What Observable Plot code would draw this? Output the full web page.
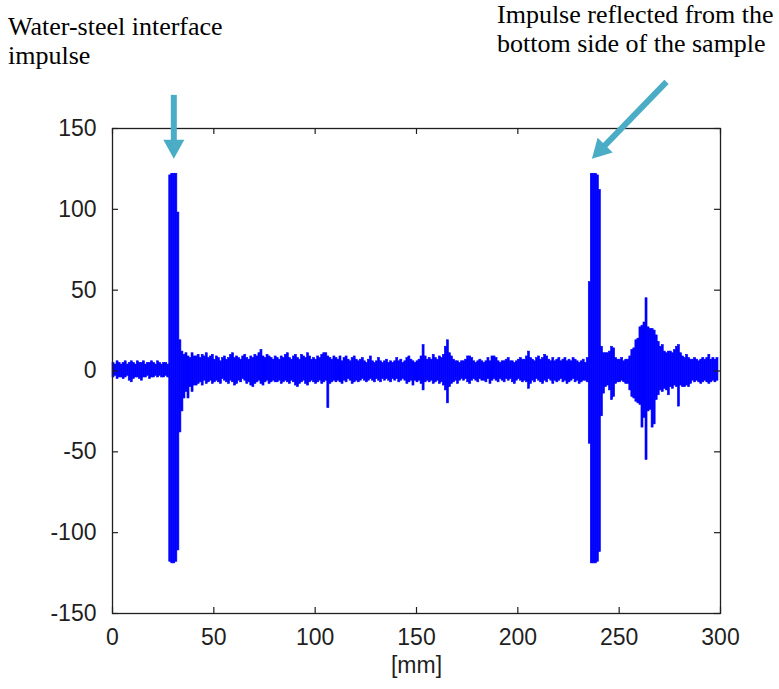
<!DOCTYPE html>
<html>
<head>
<meta charset="utf-8">
<script src="https://cdn.jsdelivr.net/npm/d3@7"></script>
<script src="https://cdn.jsdelivr.net/npm/@observablehq/plot@0.6"></script>
<style>
  html, body { margin: 0; padding: 0; background: #fff; }
  #chart { width: 779px; height: 689px; }
</style>
</head>
<body>
<div id="chart"></div>
<script>
// ---- Data ----
// Signal envelope per 1 mm bin (bin i covers i .. i+1 mm): upper and lower amplitude
const ampHigh = [
  5,4,6,5,4,5,6,4,5,6,5,4,6,5,5,6,4,5,5,6,5,4,6,5,4,5,5,4,
  121,122,122,122,98,19,12,10,11,9,8,11,9,
  9,10,8,10,9,11,8,9,10,7, 9,8,6,8,9,7,8,10,11,8, 9,8,7,9,10,8,7,9,8,10, 9,11,13,9,8,10,9,8,7,9,
  8,7,9,8,10,11,8,7,9,10, 8,7,10,9,8,11,9,7,8,7, 9,8,10,11,11,9,8,7,9,8, 7,9,6,8,9,7,6,8,9,7,
  6,7,8,6,5,7,9,6,5,6, 8,6,5,6,7,5,6,5,6,8, 6,7,5,6,8,9,7,6,5,6, 7,9,
  16,9,7,8,7,10,8,7,9,8, 10,15,19,11,9,7,6,6,5,6, 6,7,9,9,8,6,5,6,7,6, 5,6,8,6,9,9,8,6,5,6,
  6,7,8,6,6,5,6,7,8,7, 7,9,12,8,7,6,8,9,7,8, 10,9,7,6,8,6,7,8,6,7, 8,6,7,6,8,7,6,5,6,7,
  5,8,55,122,122,122,121,112,15,11,11,11,12,15,14,8,7,
  7,8,6,7,7,9,13,14,19,20, 27,28,30,45,27,26,26,25,22,18, 15,16,12,11,12,12,11,13,15,16,
  11,9,8,10,8,7,7,8,7,6, 7,8,7,8,10,7,8,7,8
];
const ampLow = [
  -4,-3,-5,-4,-4,-5,-4,-3,-6,-7,-5,-4,-4,-5,-6,-4,-4,-3,-5,-4,-4,-3,-4,-3,-4,-4,-3,-4,
  -118,-119,-119,-118,-111,-38,-25,-17,-13,-17,-10,-13,-9,
  -9,-8,-7,-9,-6,-8,-7,-6,-8,-7, -6,-7,-8,-5,-6,-7,-8,-6,-7,-9, -8,-6,-7,-5,-6,-8,-7,-9,-10,-8, -7,-6,-8,-9,-7,-6,-8,-7,-6,-7,
  -7,-6,-8,-7,-6,-7,-8,-6,-7,-9, -10,-8,-7,-6,-8,-9,-7,-6,-7,-8, -7,-6,-8,-7,-6,-23,-8,-7,-6,-7, -6,-7,-8,-6,-7,-5,-6,-8,-7,-6,
  -7,-6,-5,-6,-7,-6,-5,-6,-7,-5, -6,-7,-5,-6,-5,-6,-7,-5,-6,-5, -7,-6,-5,-6,-8,-7,-6,-9,-6,-7, -6,-8,
  -12,-7,-6,-7,-6,-8,-7,-6,-8,-7, -9,-12,-20,-10,-8,-7,-6,-8,-6,-5, -6,-5,-7,-8,-6,-5,-6,-7,-5,-6, -6,-7,-5,-8,-6,-5,-6,-7,-5,-6,
  -7,-5,-6,-5,-7,-8,-6,-5,-6,-7, -6,-7,-11,-8,-6,-7,-5,-6,-7,-8, -6,-7,-5,-6,-8,-6,-7,-6,-5,-7, -6,-8,-7,-6,-5,-7,-6,-8,-7,-6,
  -6,-7,-45,-119,-119,-119,-118,-112,-28,-14,-10,-9,-12,-18,-16,-8,-7,
  -7,-6,-7,-8,-8,-12,-16,-17,-19,-20, -21,-35,-29,-55,-25,-24,-35,-33,-18,-15, -12,-13,-11,-12,-15,-10,-11,-9,-10,-22,
  -9,-10,-10,-9,-10,-8,-6,-7,-6,-7, -8,-7,-6,-7,-8,-7,-6,-7,-6
];
const xTicks = [0, 50, 100, 150, 200, 250, 300];
const yTicks = [-150, -100, -50, 0, 50, 100, 150];
const xLabel = "[mm]";
const noteLeft = ["Water-steel interface", "impulse"];
const noteRight = ["Impulse reflected from the", "bottom side of the sample"];

const bins = ampHigh.map((hi, i) => ({ x1: i, x2: i + 1, hi, lo: ampLow[i] }));

// ---- Layout ----
const W = 779, H = 689;
const mL = 112, mR = 59, mT = 128, mB = 76;
const innerW = W - mL - mR, innerH = H - mT - mB;
const tickLen = 6;
const ink = "#1f1f1f";

const chart = Plot.plot({
  width: W, height: H,
  marginLeft: mL, marginRight: mR, marginTop: mT, marginBottom: mB,
  x: { domain: [0, 300] },
  y: { domain: [-150, 150] },
  style: { fontFamily: "'Liberation Sans', Arial, sans-serif", fontSize: "23px", color: ink, background: "#fff", overflow: "visible" },
  marks: [
    Plot.rect(bins, { x1: "x1", x2: "x2", y1: "lo", y2: "hi", fill: "#0000ff", stroke: "#0000ff", strokeWidth: 0.6 }),
    Plot.frame({ stroke: ink, strokeWidth: 1.3 }),
    // inward ticks on all four sides
    Plot.ruleX(xTicks, { x: d => d, insetTop: innerH - tickLen, stroke: ink, strokeWidth: 1.2 }),
    Plot.ruleX(xTicks, { x: d => d, insetBottom: innerH - tickLen, stroke: ink, strokeWidth: 1.2 }),
    Plot.ruleY(yTicks, { y: d => d, insetRight: innerW - tickLen, stroke: ink, strokeWidth: 1.2 }),
    Plot.ruleY(yTicks, { y: d => d, insetLeft: innerW - tickLen, stroke: ink, strokeWidth: 1.2 }),
    Plot.axisX(xTicks, { anchor: "bottom", tickSize: 0, tickPadding: 15, label: null, tickFormat: d => String(d) }),
    Plot.axisY(yTicks, { anchor: "left", tickSize: 0, tickPadding: 16, label: null, tickFormat: d => String(d) }),
    Plot.text([xLabel], { x: 150, frameAnchor: "bottom", dy: 52, text: d => d, lineAnchor: "middle", fill: ink })
  ]
});
document.getElementById("chart").appendChild(chart);

// ---- Annotations (text + arrows) ----
const sx = chart.scale("x"), sy = chart.scale("y");
const svg = d3.select(chart);
const g = svg.append("g")
  .style("font-family", "'Liberation Serif', 'Times New Roman', serif")
  .style("font-size", "26px")
  .style("text-anchor", "start")
  .style("fill", "#000");
noteLeft.forEach((t, i) => g.append("text").attr("x", 8).attr("y", 35 + i * 29).attr("text-anchor", "start").text(t));
noteRight.forEach((t, i) => g.append("text").attr("x", 497).attr("y", 23 + i * 29).attr("text-anchor", "start").text(t));

const arrowColor = "#4bacc6";
function arrow(tail, tip) {
  const T = [sx.apply(tip[0]), sy.apply(tip[1])];
  const S = [sx.apply(tail[0]), sy.apply(tail[1])];
  const dx = T[0] - S[0], dy = T[1] - S[1];
  const len = Math.hypot(dx, dy);
  const u = [dx / len, dy / len], n = [-u[1], u[0]];
  const L = 19, hw = 10.5;
  const B = [T[0] - u[0] * L, T[1] - u[1] * L];
  svg.append("line")
    .attr("x1", S[0]).attr("y1", S[1])
    .attr("x2", B[0] + u[0]).attr("y2", B[1] + u[1])
    .attr("stroke", arrowColor).attr("stroke-width", 6);
  svg.append("polygon")
    .attr("points", [T, [B[0] + n[0] * hw, B[1] + n[1] * hw], [B[0] - n[0] * hw, B[1] - n[1] * hw]].map(p => p.join(",")).join(" "))
    .attr("fill", arrowColor);
}
// arrow anchors in data units (pointing at the two impulse peaks)
arrow([30.5, 170.5], [30.5, 131]);
arrow([273.6, 178.5], [236.8, 131]);
</script>
</body>
</html>
